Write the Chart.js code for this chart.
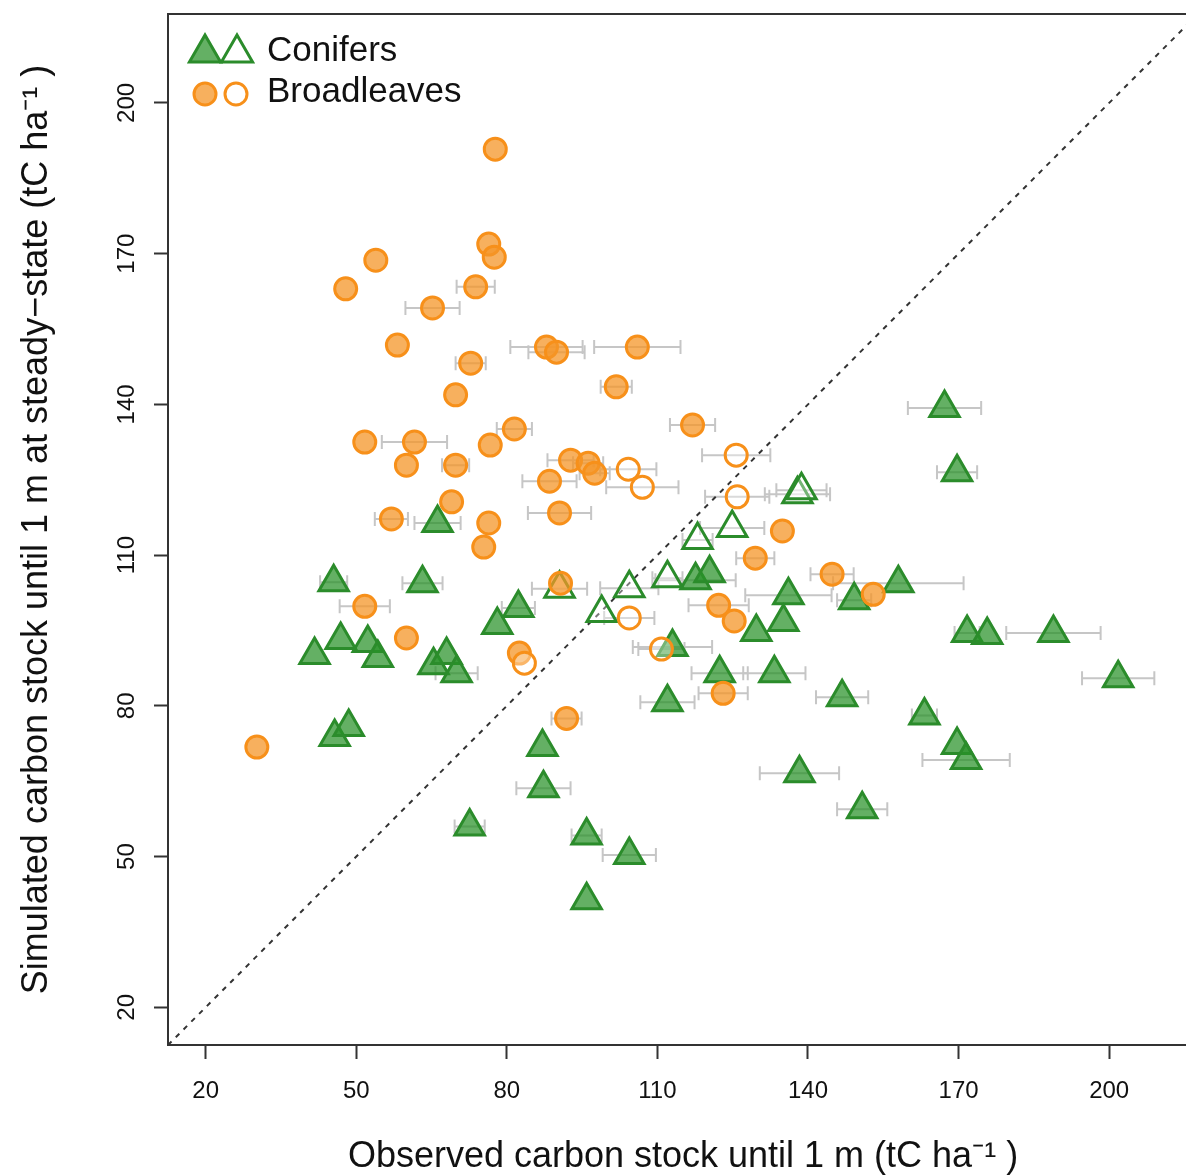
<!DOCTYPE html>
<html>
<head>
<meta charset="utf-8">
<script src="https://cdn.jsdelivr.net/npm/chart.js@4.4.1/dist/chart.umd.min.js"></script>
<style>
  html, body { margin: 0; padding: 0; background: #fff; overflow: hidden; }
  #wrap { width: 1186px; height: 1175px; overflow: hidden; }
</style>
</head>
<body>
<div id="wrap"><canvas id="chart" width="1220" height="1175"></canvas></div>
<script>
// Axis range and ticks (same on both axes)
const axisMin = 12.5;
const axisMax = 217.7;
const tickValues = [20, 50, 80, 110, 140, 170, 200];

// Conifers, filled triangles
const coniferX = [45.5, 63.2, 41.7, 46.9, 52.3, 54.3, 65.4, 68.0, 70.0, 78.1, 82.3, 45.7, 48.5, 72.6, 66.2,
  87.1, 87.3, 95.9, 104.4, 95.9, 117.6, 120.4, 113.0, 122.4, 133.3, 112.0, 129.7, 135.1, 136.1, 149.2,
  158.0, 146.8, 138.3, 150.8, 167.2, 169.7, 171.7, 175.7, 188.9, 201.8, 163.2, 169.7, 171.5];
const coniferY = [104.6, 104.4, 90.1, 93.1, 92.5, 89.5, 88.1, 90.1, 86.5, 96.1, 99.5, 73.8, 75.8, 56.0, 116.4,
  71.8, 63.6, 54.2, 50.3, 41.3, 105.0, 106.4, 91.7, 86.5, 86.5, 80.7, 94.7, 96.7, 102.0, 101.0,
  104.4, 81.7, 66.6, 59.4, 139.3, 126.5, 94.5, 94.1, 94.5, 85.5, 78.1, 72.2, 69.2];
const coniferErr = [2.7, 4.0, 0, 0, 0, 0, 0, 0, 4.2, 0, 3.3, 0, 0, 3.0, 4.6,
  0, 5.4, 3.0, 5.3, 0, 8.0, 0, 7.9, 5.6, 6.2, 5.4, 0, 0, 8.6, 3.4,
  13.0, 5.2, 7.9, 5.0, 7.3, 4.0, 2.5, 0, 9.4, 7.2, 2.5, 0, 8.7];

// Conifers, open triangles
const openConiferX = [90.5, 98.9, 104.4, 112.0, 118.0, 124.9, 137.9, 138.7];
const openConiferY = [103.3, 98.5, 103.4, 105.4, 113.0, 115.4, 122.1, 122.9];
const openConiferErr = [5.5, 0, 5.8, 3.0, 3.0, 6.4, 6.5, 5.0];

// Broadleaves, filled circles
const broadX = [77.7, 76.4, 77.5, 53.9, 47.9, 73.8, 65.2, 58.2, 87.9, 89.9, 106.0, 72.8, 101.8, 69.8, 51.7,
  61.6, 60.0, 69.8, 76.7, 81.5, 69.0, 57.0, 76.4, 75.4, 117.0, 92.7, 96.2, 97.5, 88.5, 90.5,
  134.9, 129.5, 144.8, 153.0, 122.2, 125.3, 123.1, 91.9, 30.2, 51.7, 60.0, 82.5, 90.7];
const broadY = [190.8, 171.9, 169.3, 168.7, 163.0, 163.4, 159.2, 151.8, 151.4, 150.4, 151.4, 148.2, 143.5, 141.9, 132.5,
  132.5, 127.9, 127.9, 131.9, 135.1, 120.6, 117.2, 116.4, 111.6, 135.9, 128.9, 128.3, 126.3, 124.7, 118.4,
  114.8, 109.4, 106.2, 102.2, 100.0, 96.9, 82.5, 77.5, 71.8, 99.8, 93.5, 90.5, 104.4];
const broadErr = [0, 0, 0, 0, 0, 3.8, 5.4, 0, 7.2, 5.6, 8.6, 3.0, 3.1, 0, 0,
  6.5, 0, 2.7, 0, 3.5, 0, 3.3, 0, 0, 4.5, 4.6, 3.0, 3.0, 5.4, 6.3,
  0, 3.8, 4.3, 0, 6.0, 0, 4.9, 3.0, 0, 5.0, 0, 0, 0];

// Broadleaves, open circles
const openBroadX = [125.7, 104.2, 107.0, 125.9, 104.4, 83.5, 110.8];
const openBroadY = [129.9, 127.1, 123.5, 121.6, 97.5, 88.5, 91.3];
const openBroadErr = [6.8, 5.6, 7.2, 6.4, 5.0, 0, 4.6];

const FONT = "'Liberation Sans', Arial, Helvetica, sans-serif";
const GREEN = '#2b8c2b';
const GREEN_FILL = 'rgba(40,145,40,0.72)';
const ORANGE = '#f7901a';
const ORANGE_FILL = 'rgba(244,150,40,0.75)';

const groups = [
  { x: coniferX, y: coniferY, err: coniferErr },
  { x: openConiferX, y: openConiferY, err: openConiferErr },
  { x: broadX, y: broadY, err: broadErr },
  { x: openBroadX, y: openBroadY, err: openBroadErr }
];

function toPoints(xs, ys) {
  return xs.map((v, i) => ({ x: v, y: ys[i] }));
}

// horizontal error bars, drawn under the markers
const errorBars = {
  id: 'errorBars',
  beforeDatasetsDraw(chart) {
    const { ctx, scales: { x, y } } = chart;
    ctx.save();
    ctx.strokeStyle = '#c6c6c6';
    ctx.lineWidth = 2;
    groups.forEach(g => {
      g.x.forEach((v, i) => {
        const e = g.err[i];
        if (!e) return;
        const py = y.getPixelForValue(g.y[i]);
        const x1 = x.getPixelForValue(v - e);
        const x2 = x.getPixelForValue(v + e);
        ctx.beginPath();
        ctx.moveTo(x1, py); ctx.lineTo(x2, py);
        ctx.moveTo(x1, py - 7); ctx.lineTo(x1, py + 7);
        ctx.moveTo(x2, py - 7); ctx.lineTo(x2, py + 7);
        ctx.stroke();
      });
    });
    ctx.restore();
  }
};

function triangle(ctx, cx, cy, r) {
  const s = Math.sin(Math.PI / 3) * r;
  ctx.beginPath();
  ctx.moveTo(cx, cy - r);
  ctx.lineTo(cx + s, cy + r / 2);
  ctx.lineTo(cx - s, cy + r / 2);
  ctx.closePath();
}

// box round the plot and the legend
const frameAndLegend = {
  id: 'frameAndLegend',
  afterDraw(chart) {
    const { ctx, chartArea: a } = chart;
    ctx.save();
    ctx.strokeStyle = '#333';
    ctx.lineWidth = 2;
    ctx.strokeRect(a.left, a.top, a.right - a.left, a.bottom - a.top);

    ctx.lineWidth = 3;
    ctx.strokeStyle = GREEN;
    triangle(ctx, 205, 53, 18);
    ctx.fillStyle = GREEN_FILL; ctx.fill(); ctx.stroke();
    triangle(ctx, 237, 53, 18);
    ctx.stroke();

    ctx.strokeStyle = ORANGE;
    ctx.beginPath(); ctx.arc(205, 94, 11, 0, Math.PI * 2);
    ctx.fillStyle = ORANGE_FILL; ctx.fill(); ctx.stroke();
    ctx.beginPath(); ctx.arc(236, 94, 11, 0, Math.PI * 2);
    ctx.stroke();

    ctx.fillStyle = '#111';
    ctx.font = '35px ' + FONT;
    ctx.textBaseline = 'middle';
    ctx.textAlign = 'left';
    ctx.fillText('Conifers', 267, 51);
    ctx.fillText('Broadleaves', 267, 92);
    ctx.restore();
  }
};

const tickFont = { family: FONT, size: 24 };

new Chart(document.getElementById('chart'), {
  type: 'scatter',
  data: {
    datasets: [
      {
        label: 'Broadleaves (open)',
        data: toPoints(openBroadX, openBroadY),
        pointStyle: 'circle', pointRadius: 11, borderWidth: 3,
        borderColor: ORANGE, backgroundColor: 'rgba(255,255,255,0.35)'
      },
      {
        label: 'Broadleaves',
        data: toPoints(broadX, broadY),
        pointStyle: 'circle', pointRadius: 11, borderWidth: 3,
        borderColor: ORANGE, backgroundColor: ORANGE_FILL
      },
      {
        label: 'Conifers (open)',
        data: toPoints(openConiferX, openConiferY),
        pointStyle: 'triangle', pointRadius: 17, borderWidth: 3,
        borderColor: GREEN, backgroundColor: 'rgba(255,255,255,0.35)'
      },
      {
        label: 'Conifers',
        data: toPoints(coniferX, coniferY),
        pointStyle: 'triangle', pointRadius: 17, borderWidth: 3,
        borderColor: GREEN, backgroundColor: GREEN_FILL
      },
      {
        // 1:1 line
        type: 'line',
        label: '1:1',
        data: [{ x: axisMin, y: axisMin }, { x: axisMax, y: axisMax }],
        borderColor: '#333', borderWidth: 2, borderDash: [5, 6],
        pointRadius: 0, fill: false
      }
    ]
  },
  options: {
    responsive: false,
    animation: false,
    devicePixelRatio: 1,
    layout: { autoPadding: false, padding: { top: 14, right: 22, left: 0, bottom: 0 } },
    plugins: { legend: { display: false }, tooltip: { enabled: false } },
    scales: {
      x: {
        type: 'linear', min: axisMin, max: axisMax,
        afterBuildTicks: s => { s.ticks = tickValues.map(v => ({ value: v })); },
        afterFit: s => { s.height = 130; s.paddingLeft = 0; s.paddingRight = 0; },
        grid: { drawOnChartArea: false, drawTicks: true, tickLength: 14, tickWidth: 2, tickColor: '#333' },
        border: { display: true, color: '#333', width: 2 },
        ticks: { font: tickFont, color: '#111', padding: 18, maxRotation: 0, autoSkip: false },
        title: {
          display: true,
          text: 'Observed carbon stock until 1 m (tC ha\u207B\u00B9 )',
          font: { family: FONT, size: 36, lineHeight: 1 }, color: '#111',
          padding: { top: 0, bottom: 0 }
        }
      },
      y: {
        type: 'linear', min: axisMin, max: axisMax,
        afterBuildTicks: s => { s.ticks = tickValues.map(v => ({ value: v })); },
        afterFit: s => { s.width = 168; s.paddingTop = 0; s.paddingBottom = 0; },
        grid: { drawOnChartArea: false, drawTicks: true, tickLength: 14, tickWidth: 2, tickColor: '#333' },
        border: { display: true, color: '#333', width: 2 },
        ticks: { font: tickFont, color: '#111', padding: 7, minRotation: 90, maxRotation: 90, crossAlign: 'center', autoSkip: false },
        title: {
          display: true,
          text: 'Simulated carbon stock until 1 m at steady\u2212state (tC ha\u207B\u00B9 )',
          font: { family: FONT, size: 36, lineHeight: 1 }, color: '#111',
          padding: { top: 19, bottom: 0 }
        }
      }
    }
  },
  plugins: [errorBars, frameAndLegend]
});
</script>
</body>
</html>
